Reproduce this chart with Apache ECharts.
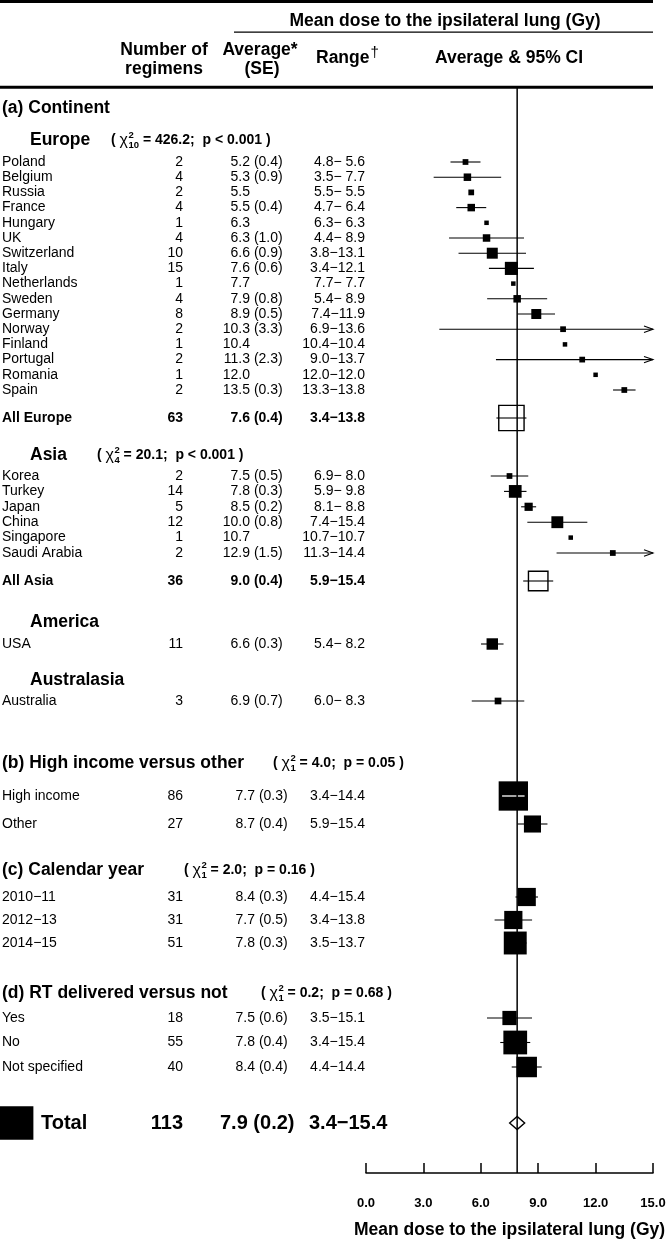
<!DOCTYPE html>
<html><head><meta charset="utf-8">
<script src="https://cdn.jsdelivr.net/npm/echarts@6/dist/echarts.min.js"></script>
<style>html,body{margin:0;padding:0;background:#fff}#c{width:670px;height:1241px}</style>
</head><body><div id="c"></div>
<script>
// ================= DATA =================
const europeNames = ['Poland','Belgium','Russia','France','Hungary','UK','Switzerland','Italy','Netherlands','Sweden','Germany','Norway','Finland','Portugal','Romania','Spain'];
const europeN    = [2,4,2,4,1,4,10,15,1,4,8,2,1,2,1,2];
const europeMean = [5.2,5.3,5.5,5.5,6.3,6.3,6.6,7.6,7.7,7.9,8.9,10.3,10.4,11.3,12.0,13.5];
const europeSE   = [0.4,0.9,null,0.4,null,1.0,0.9,0.6,null,0.8,0.5,3.3,null,2.3,null,0.3];
const europeMin  = [4.8,3.5,5.5,4.7,6.3,4.4,3.8,3.4,7.7,5.4,7.4,6.9,10.4,9.0,12.0,13.3];
const europeMax  = [5.6,7.7,5.5,6.4,6.3,8.9,13.1,12.1,7.7,8.9,11.9,13.6,10.4,13.7,12.0,13.8];

const asiaNames = ['Korea','Turkey','Japan','China','Singapore','Saudi Arabia'];
const asiaN    = [2,14,5,12,1,2];
const asiaMean = [7.5,7.8,8.5,10.0,10.7,12.9];
const asiaSE   = [0.5,0.3,0.2,0.8,null,1.5];
const asiaMin  = [6.9,5.9,8.1,7.4,10.7,11.3];
const asiaMax  = [8.0,9.8,8.8,15.4,10.7,14.4];

const americaNames = ['USA'];
const americaN = [11]; const americaMean = [6.6]; const americaSE = [0.3];
const americaMin = [5.4]; const americaMax = [8.2];

const australasiaNames = ['Australia'];
const australasiaN = [3]; const australasiaMean = [6.9]; const australasiaSE = [0.7];
const australasiaMin = [6.0]; const australasiaMax = [8.3];

const continentSummaryNames = ['All Europe','All Asia'];
const continentSummaryN    = [63,36];
const continentSummaryMean = [7.6,9.0];
const continentSummarySE   = [0.4,0.4];
const continentSummaryMin  = [3.4,5.9];
const continentSummaryMax  = [13.8,15.4];

const incomeNames = ['High income','Other'];
const incomeN = [86,27]; const incomeMean = [7.7,8.7]; const incomeSE = [0.3,0.4];
const incomeMin = [3.4,5.9]; const incomeMax = [14.4,15.4];

const yearNames = ['2010\u221211','2012\u221213','2014\u221215'];
const yearN = [31,31,51]; const yearMean = [8.4,7.7,7.8]; const yearSE = [0.3,0.5,0.3];
const yearMin = [4.4,3.4,3.5]; const yearMax = [15.4,13.8,13.7];

const rtNames = ['Yes','No','Not specified'];
const rtN = [18,55,40]; const rtMean = [7.5,7.8,8.4]; const rtSE = [0.6,0.4,0.4];
const rtMin = [3.5,3.4,4.4]; const rtMax = [15.1,15.4,14.4];

const totalN = [113]; const totalMean = [7.9]; const totalSE = [0.2];
const totalMin = [3.4]; const totalMax = [15.4];

const testDF   = [10,4,1,1,1];
const testChi2 = [426.2,20.1,4.0,2.0,0.2];
const testP    = ['< 0.001','< 0.001','= 0.05','= 0.16','= 0.68'];

const sectionTitles = ['(a) Continent','(b) High income versus other','(c) Calendar year','(d) RT delivered versus not'];
const groupTitles = ['Europe','Asia','America','Australasia'];
const axisTickValues = [0,3,6,9,12,15];

// ================= LAYOUT (pixel-unit y positions of rows) =================
const L = {
  secA:108, eurHead:140, eurFirst:162, eurStep:15.2, eurSum:418,
  asiaHead:455, asiaFirst:476, asiaStep:15.4, asiaSum:581,
  amHead:622, amFirst:644, auHead:680, auFirst:701,
  secB:763, bFirst:796, bStep:28,
  secC:870, cFirst:897, cStep:23,
  secD:993, dFirst:1018, dStep:24.5,
  total:1123, refTop:87, axisY:1173
};
const COL = {name:2, group:30, count:183, meanA:250, meanB:255, range:365, totLabel:41, totMean:220, totRange:309};
const STATX = [111, 97, 273, 184, 261];

const FONT = '"Liberation Sans", Arial, Helvetica, sans-serif';
function F(size, bold, italic){ return (italic?'italic ':'') + (bold?'bold ':'') + size + 'px ' + FONT; }
const mctx = document.createElement('canvas').getContext('2d');
function tw(s, f){ mctx.font = f; return mctx.measureText(s).width; }
function boxSize(n){ return 1.5 + 3.0*Math.sqrt(n); }

// ================= ROWS =================
const rows = [];
function addItems(names, n, mean, se, mn, mx, y0, step, style, type){
  names.forEach((nm,i)=>rows.push({type:type||'item', label:nm, n:n[i], mean:mean[i], se:se[i], min:mn[i], max:mx[i], y:y0+i*step, style}));
}
rows.push({type:'section', label:sectionTitles[0], y:L.secA});
rows.push({type:'group', label:groupTitles[0], y:L.eurHead, stat:0});
addItems(europeNames, europeN, europeMean, europeSE, europeMin, europeMax, L.eurFirst, L.eurStep, 'a');
rows.push({type:'summary', label:continentSummaryNames[0], n:continentSummaryN[0], mean:continentSummaryMean[0], se:continentSummarySE[0], min:continentSummaryMin[0], max:continentSummaryMax[0], y:L.eurSum, style:'a'});
rows.push({type:'group', label:groupTitles[1], y:L.asiaHead, stat:1});
addItems(asiaNames, asiaN, asiaMean, asiaSE, asiaMin, asiaMax, L.asiaFirst, L.asiaStep, 'a');
rows.push({type:'summary', label:continentSummaryNames[1], n:continentSummaryN[1], mean:continentSummaryMean[1], se:continentSummarySE[1], min:continentSummaryMin[1], max:continentSummaryMax[1], y:L.asiaSum, style:'a'});
rows.push({type:'group', label:groupTitles[2], y:L.amHead});
addItems(americaNames, americaN, americaMean, americaSE, americaMin, americaMax, L.amFirst, 0, 'a');
rows.push({type:'group', label:groupTitles[3], y:L.auHead});
addItems(australasiaNames, australasiaN, australasiaMean, australasiaSE, australasiaMin, australasiaMax, L.auFirst, 0, 'a');
rows.push({type:'section', label:sectionTitles[1], y:L.secB, stat:2});
addItems(incomeNames, incomeN, incomeMean, incomeSE, incomeMin, incomeMax, L.bFirst, L.bStep, 'b');
rows.push({type:'section', label:sectionTitles[2], y:L.secC, stat:3});
addItems(yearNames, yearN, yearMean, yearSE, yearMin, yearMax, L.cFirst, L.cStep, 'b');
rows.push({type:'section', label:sectionTitles[3], y:L.secD, stat:4});
addItems(rtNames, rtN, rtMean, rtSE, rtMin, rtMax, L.dFirst, L.dStep, 'b');
rows.push({type:'total', label:'Total', n:totalN[0], mean:totalMean[0], se:totalSE[0], min:totalMin[0], max:totalMax[0], y:L.total});

function fmtRange(a,b){ return a.toFixed(1) + '\u2212' + (b<10?' ':'') + b.toFixed(1); }

function txt(x, y, s, font, align){
  return {type:'text', x:x, y:y, silent:true,
    style:{text:s, font:font, fill:'#000', align:align||'left', verticalAlign:'middle', textAlign:align||'left', textVerticalAlign:'middle'}};
}

function statsEls(x, y, k){
  const fMain = F(14,true), fChi = F(16,false), fSmall = F(9.5,true);
  const els = []; let cx = x;
  els.push(txt(cx, y, '( ', fMain)); cx += tw('( ', fMain);
  els.push(txt(cx, y+0.5, '\u03C7', fChi)); cx += tw('\u03C7', fChi) + 0.5;
  const df = String(testDF[k]);
  els.push(txt(cx, y-5, '2', fSmall));
  els.push(txt(cx, y+5, df, fSmall));
  cx += Math.max(tw('2', fSmall), tw(df, fSmall));
  const rest = ' = ' + testChi2[k].toFixed(1) + ';  p ' + testP[k] + ' )';
  els.push(txt(cx, y, rest, fMain));
  return els;
}

function renderTable(params, api){
  const r = rows[params.dataIndex];
  const X = v => api.coord([v, r.y])[0];
  const y = api.coord([0, r.y])[1];
  const els = [];
  if (r.type === 'section'){
    els.push(txt(X(COL.name), y, r.label, F(17.5,true)));
  } else if (r.type === 'group'){
    els.push(txt(X(COL.group), y, r.label, F(17.5,true)));
  }
  if ((r.type === 'section' || r.type === 'group') && r.stat != null){
    els.push(...statsEls(X(STATX[r.stat]), y, r.stat));
  }
  if (r.type === 'item' || r.type === 'summary'){
    const bold = r.type === 'summary';
    const f = F(14, bold);
    const mx = r.style === 'a' ? COL.meanA : COL.meanB;
    els.push(txt(X(COL.name), y, r.label, f));
    els.push(txt(X(COL.count), y, String(r.n), f, 'right'));
    els.push(txt(X(mx), y, r.mean.toFixed(1), f, 'right'));
    if (r.se != null) els.push(txt(X(mx), y, ' (' + r.se.toFixed(1) + ')', f));
    els.push(txt(X(COL.range), y, fmtRange(r.min, r.max), f, 'right'));
  }
  if (r.type === 'total'){
    const f = F(20, true);
    const s = boxSize(r.n);
    els.push({type:'rect', shape:{x:X(0), y:y-s/2, width:s, height:s}, style:{fill:'#000'}});
    els.push(txt(X(COL.totLabel), y, r.label, f));
    els.push(txt(X(COL.count), y, String(r.n), f, 'right'));
    els.push(txt(X(COL.totMean), y, r.mean.toFixed(1) + ' (' + r.se.toFixed(1) + ')', f));
    els.push(txt(X(COL.totRange), y, fmtRange(r.min, r.max), f));
  }
  return {type:'group', children:els};
}

const XMIN = 0, XMAX = 15;
function renderForest(params, api){
  const idx = api.value(2);
  const r = rows[idx];
  const X = v => api.coord([v, r.y])[0];
  const y = api.coord([r.mean, r.y])[1];
  const cx = X(r.mean);
  const els = [];
  const ls = {stroke:'#000', lineWidth:1.1};
  if (r.type === 'total'){
    const lo = r.mean - 1.96*r.se, hi = r.mean + 1.96*r.se;
    els.push({type:'polygon', shape:{points:[[X(lo),y],[cx,y-6.5],[X(hi),y],[cx,y+6.5]]},
      style:{fill:'#fff', stroke:'#000', lineWidth:1.4}, z2:5});
    return {type:'group', children:els};
  }
  const s = boxSize(r.n);
  let lo = null, hi = null;
  if (r.se != null){
    lo = r.mean - 1.96*r.se; hi = r.mean + 1.96*r.se;
    const a = Math.max(lo, XMIN), b = Math.min(hi, XMAX);
    els.push({type:'line', shape:{x1:X(a), y1:y, x2:X(b), y2:y}, style:ls});
    if (hi > XMAX){
      const tx = X(XMAX);
      els.push({type:'polyline', shape:{points:[[tx-9,y-3.2],[tx,y],[tx-9,y+3.2]]}, style:{stroke:'#000', lineWidth:1.1, fill:null}});
    }
    if (lo < XMIN){
      const tx = X(XMIN);
      els.push({type:'polyline', shape:{points:[[tx+9,y-3.2],[tx,y],[tx+9,y+3.2]]}, style:{stroke:'#000', lineWidth:1.1, fill:null}});
    }
  }
  if (r.type === 'summary'){
    els.push({type:'rect', shape:{x:cx-s/2, y:y-s/2, width:s, height:s}, style:{fill:null, stroke:'#000', lineWidth:1.4}});
  } else {
    els.push({type:'rect', shape:{x:cx-s/2, y:y-s/2, width:s, height:s}, style:{fill:'#000'}});
    if (lo != null && (X(hi)-X(lo))/2 < 0.9*s/2){
      els.push({type:'line', shape:{x1:X(lo), y1:y, x2:X(hi), y2:y}, style:{stroke:'#fff', lineWidth:1.3}});
    }
  }
  return {type:'group', children:els};
}

// ================= CHART =================
const chart = echarts.init(document.getElementById('c'), null, {renderer:'canvas'});
const hdr = (x, y, s, size, align, bold) => ({type:'text', x:x, y:y, silent:true,
  style:{text:s, font:F(size, bold!==false), fill:'#000', align:align||'center', verticalAlign:'middle', textAlign:align||'center', textVerticalAlign:'middle'}});

const option = {
  animation:false,
  backgroundColor:'#fff',
  grid:[
    {left:366, right:17, top:0, bottom:1241-L.axisY, containLabel:false, outerBoundsMode:'none'},
    {left:0, right:0, top:0, bottom:1241-L.axisY, containLabel:false, outerBoundsMode:'none'}
  ],
  xAxis:[
    {gridIndex:0, type:'value', min:XMIN, max:XMAX, interval:3,
      axisLine:{show:true, onZero:false, lineStyle:{color:'#000', width:1.5}},
      axisTick:{show:true, inside:true, length:10, lineStyle:{color:'#000', width:1.5}},
      axisLabel:{show:true, margin:24, color:'#000', fontWeight:'bold', fontSize:13, fontFamily:FONT,
        formatter:v => axisTickValues.includes(v) ? v.toFixed(1) : ''},
      splitLine:{show:false},
      name:'Mean dose to the ipsilateral lung (Gy)', nameLocation:'middle', nameGap:48,
      nameTextStyle:{color:'#000', fontWeight:'bold', fontSize:17.5, fontFamily:FONT}},
    {gridIndex:1, type:'value', min:0, max:670, show:false}
  ],
  yAxis:[
    {gridIndex:0, type:'value', min:0, max:L.axisY, inverse:true, show:false},
    {gridIndex:1, type:'value', min:0, max:L.axisY, inverse:true, show:false}
  ],
  graphic:[
    {type:'rect', shape:{x:0, y:0, width:653, height:3}, style:{fill:'#000'}},
    {type:'rect', shape:{x:234, y:31.4, width:419, height:1.3}, style:{fill:'#000'}},
    {type:'rect', shape:{x:0, y:85.8, width:653, height:3}, style:{fill:'#000'}},
    hdr(445, 21, 'Mean dose to the ipsilateral lung (Gy)', 17.5),
    hdr(164, 50, 'Number of', 17.5),
    hdr(164, 69, 'regimens', 17.5),
    hdr(260, 50, 'Average*', 17.5),
    hdr(262, 69, '(SE)', 17.5),
    hdr(316, 58, 'Range', 17.5, 'left'),
    hdr(316 + tw('Range', F(17.5,true)) + 1, 53, '\u2020', 15, 'left', false),
    hdr(509, 58, 'Average & 95% CI', 17.5)
  ],
  series:[
    {type:'custom', xAxisIndex:1, yAxisIndex:1, clip:false, silent:true, z:2,
      data: rows.map((r,i)=>[0, r.y, i]), renderItem: renderTable},
    {type:'custom', xAxisIndex:0, yAxisIndex:0, clip:false, silent:true, z:3,
      encode:{x:0, y:1},
      data: rows.map((r,i)=>[r.mean, r.y, i]).filter(d => d[0] != null), renderItem: renderForest},
    {type:'line', xAxisIndex:0, yAxisIndex:0, silent:true, z:5, symbol:'none',
      data:[[totalMean[0], L.refTop], [totalMean[0], L.axisY]],
      lineStyle:{color:'#000', width:1.5}}
  ]
};
chart.setOption(option);
</script>
</body></html>
